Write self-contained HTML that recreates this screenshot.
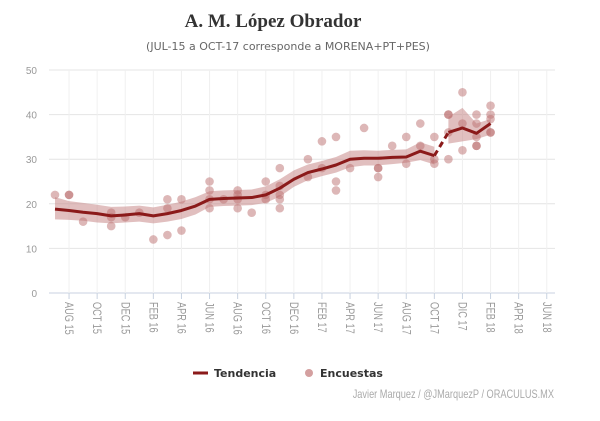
<!DOCTYPE html>
<html><head><meta charset="utf-8"><style>
body{margin:0;background:#fff;}
svg{display:block;font-family:"Liberation Sans",sans-serif;}
</style></head><body>
<svg id="chart" width="600" height="421">
<text x="273" y="27" text-anchor="middle" font-family="Liberation Serif,serif" font-size="19" font-weight="bold" fill="#333">A. M. López Obrador</text>
<text x="288" y="50" text-anchor="middle" font-family="DejaVu Sans,sans-serif" font-size="11" fill="#666">(JUL-15 a OCT-17 corresponde a MORENA+PT+PES)</text>
<g id="grid"></g><g id="band"></g><g id="pts"></g><g id="line"></g><g id="axes"></g>
<g>
<line x1="193" y1="373" x2="208" y2="373" stroke="#8b1a1a" stroke-width="3"/>
<text x="214" y="377" font-family="DejaVu Sans,sans-serif" font-size="11" font-weight="bold" fill="#333">Tendencia</text>
<circle cx="309" cy="373" r="4" fill="#d4a0a0"/>
<text x="320" y="377" font-family="DejaVu Sans,sans-serif" font-size="11" font-weight="bold" fill="#333">Encuestas</text>
</g>
<text x="554" y="398" text-anchor="end" font-size="11.5" fill="#aaa" transform="translate(554 0) scale(0.8 1) translate(-554 0)">Javier Marquez / @JMarquezP / ORACULUS.MX</text>
</svg>
<script>
const yTicks=[0,10,20,30,40,50];
const xTickLabels=["AUG 15","OCT 15","DEC 15","FEB 16","APR 16","JUN 16","AUG 16","OCT 16","DEC 16","FEB 17","APR 17","JUN 17","AUG 17","OCT 17","DIC 17","FEB 18","APR 18","JUN 18"];
const xTickMonths=[1,3,5,7,9,11,13,15,17,19,21,23,25,27,29,31,33,35];
const pollMonths=[0,1,1,2,4,4,4,5,6,7,8,8,8,9,9,11,11,11,11,12,13,13,13,13,14,15,15,15,16,16,16,16,16,18,18,19,19,20,20,20,21,22,23,23,23,24,25,25,26,26,27,27,27,28,28,28,28,29,29,29,30,30,30,30,30,31,31,31,31,31];
const pollValues=[22,22,22,16,18,17,15,17,18,12,19,21,13,21,14,25,23,21,19,21,22,23,21,19,18,25,22,21,28,24,22,21,19,30,26,34,28,35,25,23,28,37,28,28,26,33,35,29,38,33,35,30,29,40,40,36,30,45,38,32,40,38,35,33,33,42,40,39,36,36];
const trendMonths=[0,1,2,3,4,5,6,7,8,9,10,11,12,13,14,15,16,17,18,19,20,21,22,23,24,25,26,27];
const trendValues=[18.8,18.5,18.1,17.8,17.3,17.5,17.8,17.3,17.8,18.5,19.5,21,21.2,21.3,21.4,22,23.5,25.5,27,27.8,28.7,30,30.2,30.2,30.4,30.5,31.8,30.8];
const trendLow=[16.5,16.4,16.2,15.8,15.6,15.8,16,15.6,16,16.6,17.6,19.3,19.5,19.6,19.7,20.2,21.6,23.8,25.3,26.2,27,28.2,28.6,28.6,28.9,29.2,29.8,28.8];
const trendHigh=[21.5,20.6,20.2,19.8,19.3,19.4,19.6,19.2,19.8,20.5,21.5,22.8,23,23.1,23.2,23.9,25.5,27.5,28.8,29.6,30.5,31.9,32,31.9,32.1,32.2,33.8,32.8];
const lateMonths=[28,29,30,31];
const lateValues=[36,37,35.8,38];
const lateLow=[33.5,34,34.5,35.5];
const lateHigh=[39.5,41.5,38,39];
const NS="http://www.w3.org/2000/svg";
const X=m=>55+14.05*m, Y=v=>293-v*4.46;
function mk(p,t,a){const e=document.createElementNS(NS,t);for(const k in a)e.setAttribute(k,a[k]);document.getElementById(p).appendChild(e);return e;}
yTicks.forEach((v,i)=>{
 const l=mk('grid','line',{x1:49,x2:555,y1:Y(v),y2:Y(v),stroke:v===0?'#c8d2e0':'#e4e4e4','stroke-width':1});
 
 
 const t=mk('axes','text',{x:37,y:Y(v)+4,'text-anchor':'end','font-size':10,fill:'#999'});t.textContent=v;
 
 
});
xTickMonths.forEach((m,i)=>{
 const g=mk('grid','line',{x1:X(m),x2:X(m),y1:70,y2:293,stroke:'#f0f0f0'});
 
 
 const tk=mk('axes','line',{x1:X(m),x2:X(m),y1:293,y2:299,stroke:'#c8d2e0'});
 
 
 const t=mk('axes','text',{x:0,y:0,'font-size':11.5,fill:'#999',transform:`translate(${X(m)-4},302) rotate(90) scale(0.8 1)`});t.textContent=xTickLabels[i];
 
 
});
function band(ms,lo,hi,name){
 let d='M'+ms.map((m,i)=>X(m)+','+Y(hi[i])).join('L')+'L'+ms.map((m,i)=>X(m)+','+Y(lo[i])).reverse().join('L')+'Z';
 const p=mk('band','path',{d:d,fill:'#c98a8a','fill-opacity':0.55});
 
 
}
band(trendMonths,trendLow,trendHigh,'trend-confidence-band');
band(lateMonths,lateLow,lateHigh,'late-confidence-band');
pollMonths.forEach((m,i)=>{
 const c=mk('pts','circle',{cx:X(m),cy:Y(pollValues[i]),r:4.3,fill:'#bb7070','fill-opacity':0.5});
 
 
});
const l1=mk('line','polyline',{points:trendMonths.map((m,i)=>X(m)+','+Y(trendValues[i])).join(' '),fill:'none',stroke:'#8b1a1a','stroke-width':3,'stroke-linejoin':'round'});


const n=trendMonths.length-1;
const l2=mk('line','line',{x1:X(trendMonths[n]),y1:Y(trendValues[n]),x2:X(lateMonths[0]),y2:Y(lateValues[0]),stroke:'#8b1a1a','stroke-width':3,'stroke-dasharray':'6,4'});


const l3=mk('line','polyline',{points:lateMonths.map((m,i)=>X(m)+','+Y(lateValues[i])).join(' '),fill:'none',stroke:'#8b1a1a','stroke-width':3,'stroke-linejoin':'round'});


</script>
</body></html>
